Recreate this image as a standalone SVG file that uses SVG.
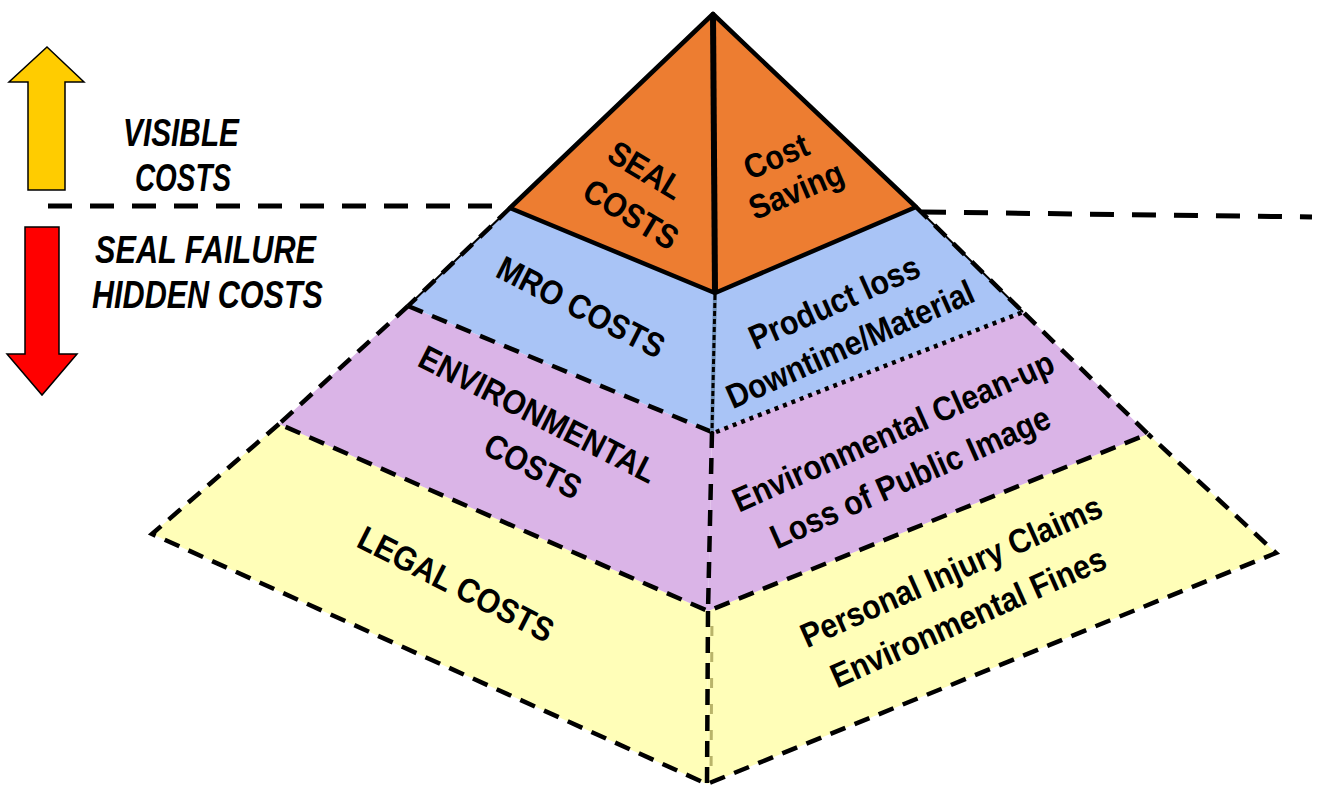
<svg xmlns="http://www.w3.org/2000/svg" width="1318" height="789" viewBox="0 0 1318 789">
  <style>
    .bg { fill: #ffffff; }
    .seal { fill: #ED7D31; stroke: #000; stroke-width: 4.5; stroke-linejoin: round; }
    .mro { fill: #A9C4F6; }
    .env { fill: #DAB4E7; }
    .legal { fill: #FFFEB8; }
    .dash { fill: none; stroke: #000; stroke-width: 4.5; stroke-dasharray: 16 10; }
    .dot { fill: none; stroke: #000; stroke-width: 4.5; stroke-dasharray: 4 5; }
    .thin { fill: none; stroke: #000; stroke-width: 2; }
    .divider { fill: none; stroke: #000; stroke-width: 5; stroke-dasharray: 24 18; }
    .lbl { font-family: "Liberation Sans", Arial, sans-serif; font-weight: bold; font-size: 34px; fill: #000; text-anchor: middle; }
    .side { font-family: "Liberation Sans", Arial, sans-serif; font-weight: bold; font-style: italic; font-size: 39px; fill: #000; }
  </style>

  <rect class="bg" x="0" y="0" width="1318" height="789"/>

  <!-- Direction arrows -->
  <g id="arrow-up">
    <polygon points="47,47 84,82 65,82 65,190 28,190 28,82 9,82" fill="#FFCC00" stroke="#000" stroke-width="1.5"/>
  </g>
  <g id="arrow-down">
    <polygon points="25,227 59,227 59,354 77,354 42,395 7,354 25,354" fill="#FF0000" stroke="#000" stroke-width="1.5"/>
  </g>

  <g id="label-visible">
    <text class="side" x="123" y="146" textLength="116" lengthAdjust="spacingAndGlyphs">VISIBLE</text>
    <text class="side" x="135" y="191" textLength="96" lengthAdjust="spacingAndGlyphs">COSTS</text>
  </g>
  <g id="label-hidden">
    <text class="side" x="95" y="263" textLength="221" lengthAdjust="spacingAndGlyphs">SEAL FAILURE</text>
    <text class="side" x="92" y="308" textLength="231" lengthAdjust="spacingAndGlyphs">HIDDEN COSTS</text>
  </g>

  <!-- Legal tier (base) -->
  <g id="tier-legal">
    <polygon class="legal" points="279,424 708,611 707,784 152,534"/>
    <polygon class="legal" points="708,611 1148,434 1276,553 707,784"/>
    <line x1="712" y1="614" x2="711" y2="782" stroke="#B9B46A" stroke-width="3" stroke-dasharray="10 16" stroke-dashoffset="-12"/>
    <polyline class="dash" points="279,424 152,534 707,784 1276,553 1148,434"/>
    <line class="dash" x1="708" y1="611" x2="707" y2="784"/>
    <text class="lbl" transform="translate(456,584) rotate(27) scale(0.89,1)" y="12">LEGAL COSTS</text>
    <text class="lbl" transform="translate(951,571) rotate(-24) scale(0.89,1)" y="12">Personal Injury Claims</text>
    <text class="lbl" transform="translate(968,617) rotate(-24) scale(0.89,1)" y="12">Environmental Fines</text>
  </g>

  <!-- Environmental tier -->
  <g id="tier-env">
    <polygon class="env" points="408,306 712,432 708,611 279,424"/>
    <polygon class="env" points="712,432 1023,312 1148,434 708,611"/>
    <polyline class="dash" points="408,306 279,424 708,611 1148,434 1023,312"/>
    <line class="dash" x1="712" y1="432" x2="708" y2="611" stroke-dasharray="16 8"/>
    <text class="lbl" transform="translate(538,414) rotate(27) scale(0.89,1)" y="12">ENVIRONMENTAL</text>
    <text class="lbl" transform="translate(533,466) rotate(27) scale(0.89,1)" y="12">COSTS</text>
    <text class="lbl" transform="translate(893,431) rotate(-24) scale(0.89,1)" y="12">Environmental Clean-up</text>
    <text class="lbl" transform="translate(910,477) rotate(-24) scale(0.89,1)" y="12">Loss of Public Image</text>
  </g>

  <!-- MRO tier -->
  <g id="tier-mro">
    <polygon class="mro" points="510,208 715,293 712,432 408,306"/>
    <polygon class="mro" points="715,293 916,207 1023,312 712,432"/>
    <line class="thin" x1="510" y1="208" x2="408" y2="306"/>
    <line class="thin" x1="916" y1="207" x2="1023" y2="312"/>
    <line class="dash" x1="510" y1="208" x2="408" y2="306"/>
    <line class="dash" x1="916" y1="207" x2="1023" y2="312"/>
    <line class="dash" x1="408" y1="306" x2="712" y2="432"/>
    <line class="dot" x1="716" y1="432" x2="1023" y2="312"/>
    <line x1="715" y1="295" x2="712" y2="432" stroke="#6F8FB5" stroke-width="4"/>
    <line x1="715" y1="295" x2="712" y2="432" stroke="#000" stroke-width="3" stroke-dasharray="5 3"/>
    <text class="lbl" transform="translate(581,307) rotate(27) scale(0.89,1)" y="12">MRO COSTS</text>
    <text class="lbl" transform="translate(834,302) rotate(-24) scale(0.89,1)" y="12">Product loss</text>
    <text class="lbl" transform="translate(850,344) rotate(-24) scale(0.89,1)" y="12">Downtime/Material</text>
  </g>

  <!-- Seal tier (apex) -->
  <g id="tier-seal">
    <polygon class="seal" points="713,14 510,208 715,293"/>
    <polygon class="seal" points="713,14 715,293 916,207"/>
    <line x1="713" y1="14" x2="715" y2="293" stroke="#000" stroke-width="6"/>
    <text class="lbl" transform="translate(646,170) rotate(31) scale(0.89,1)" y="12">SEAL</text>
    <text class="lbl" transform="translate(631,214) rotate(31) scale(0.89,1)" y="12">COSTS</text>
    <text class="lbl" transform="translate(776,156) rotate(-23) scale(0.89,1)" y="12">Cost</text>
    <text class="lbl" transform="translate(796,190) rotate(-23) scale(0.89,1)" y="12">Saving</text>
  </g>

  <!-- Visible / hidden divider -->
  <g id="connectors">
    <line class="divider" x1="48" y1="206" x2="494" y2="206"/>
    <line class="divider" x1="922" y1="212" x2="1312" y2="217"/>
  </g>
</svg>
